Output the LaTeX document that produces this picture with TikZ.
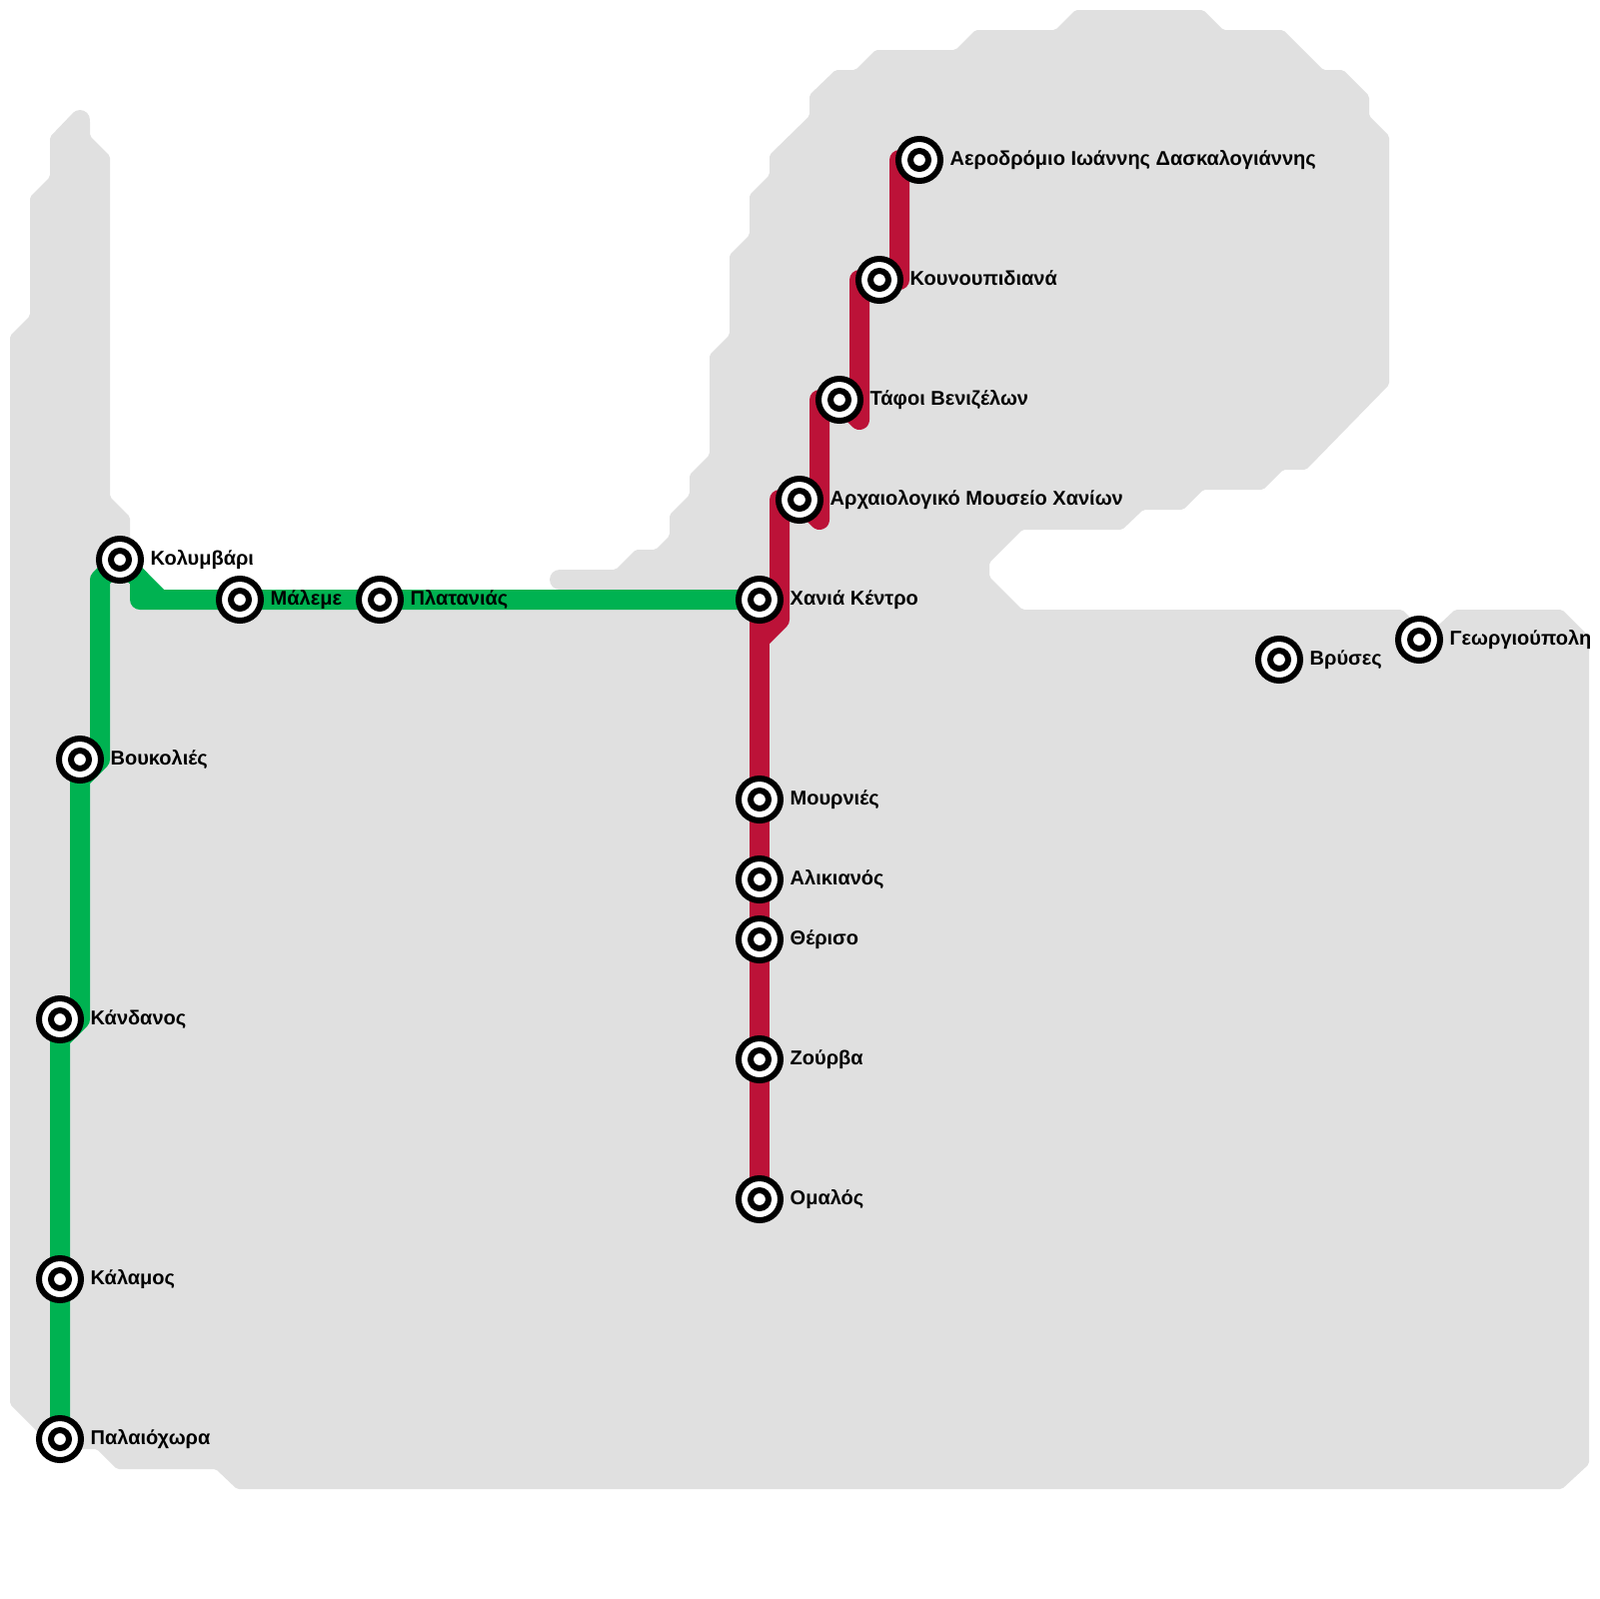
\documentclass[tikz,border=0pt]{standalone}
\usepackage{fontspec}
\setmainfont{Liberation Sans}
\usetikzlibrary{calc,backgrounds}
\definecolor{landgray}{RGB}{224,224,224}
\definecolor{linegreen}{RGB}{0,178,81}
\definecolor{linered}{RGB}{188,18,56}
\tikzset{
  stationring/.style={circle,draw=black,fill=white,line width=0.6mm,minimum size=4.2mm,inner sep=0pt,outer sep=0pt},
  stationcore/.style={circle,draw=black,fill=white,line width=0.6mm,minimum size=1.8mm,inner sep=0pt,outer sep=0pt},
  stationname/.style={anchor=base west,inner sep=0pt,font=\fontsize{5.69pt}{6.8pt}\selectfont\bfseries},
  metroline/.style={line width=2mm,line join=round,line cap=round}
}

\begin{document}
\begin{tikzpicture}[x=0.1mm,y=-0.1mm]
\useasboundingbox (0,0) rectangle (1600,1600);

% ===== STATIONS =====
\foreach \stn/\pos/\txt in {
  kolymvari/{120,560}/Κολυμβάρι,
  maleme/{240,600}/Μάλεμε,
  platanias/{380,600}/Πλατανιάς,
  chania/{760,600}/Χανιά Κέντρο,
  voukolies/{80,760}/Βουκολιές,
  kandanos/{60,1020}/Κάνδανος,
  kalamos/{60,1280}/Κάλαμος,
  palaiochora/{60,1440}/Παλαιόχωρα,
  mournies/{760,800}/Μουρνιές,
  alikianos/{760,880}/Αλικιανός,
  theriso/{760,940}/Θέρισο,
  zourva/{760,1060}/Ζούρβα,
  omalos/{760,1200}/Ομαλός,
  mouseio/{800,500}/Αρχαιολογικό Μουσείο Χανίων,
  venizelos/{840,400}/Τάφοι Βενιζέλων,
  kounoupidiana/{880,280}/Κουνουπιδιανά,
  aerodromio/{920,160}/Αεροδρόμιο Ιωάννης Δασκαλογιάννης,
  vryses/{1280,660}/Βρύσες,
  georgioupoli/{1420,640}/Γεωργιούπολη}{
  \node[stationring] (\stn) at (\pos) {};
  \node[stationcore] (\stn-core) at (\stn.center) {};
  \node[stationname] (\stn-name) at ($(\stn.center)+(30,5)$) {\txt};
}

% ===== BENDS =====
\coordinate (gbend1) at (140,580);
\coordinate (gbend2) at (140,600);
\coordinate (gbend3) at (160,600);
\coordinate (gbend4) at (100,580);
\coordinate (gbend5) at (100,760);
\coordinate (gbend6) at (80,780);
\coordinate (gbend7) at (80,1020);
\coordinate (gbend8) at (60,1040);
\coordinate (rbend1) at (760,640);
\coordinate (rbend2) at (780,620);
\coordinate (rbend3) at (780,500);
\coordinate (rbend4) at (820,520);
\coordinate (rbend5) at (820,400);
\coordinate (rbend6) at (860,420);
\coordinate (rbend7) at (860,280);
\coordinate (rbend8) at (900,280);
\coordinate (rbend9) at (900,160);

\begin{scope}[on background layer]
% land
\fill[landgray,rounded corners=0.2mm]
  (73,113) -- (90,120) -- (90,136) -- (110,156) -- (110,497) -- (130,517) -- (130,600)
  -- (560,600) -- (560,570) -- (616,570) -- (636,550) -- (656,550) -- (670,536) -- (670,515)
  -- (690,495) -- (690,475) -- (710,455) -- (710,355) -- (730,335) -- (730,255) -- (750,235)
  -- (750,195) -- (770,175) -- (770,155) -- (810,116) -- (810,95) -- (836,70) -- (856,70)
  -- (876,50) -- (956,50) -- (976,30) -- (1056,30) -- (1076,10) -- (1204,10) -- (1224,30)
  -- (1284,30) -- (1324,70) -- (1344,70) -- (1370,96) -- (1370,116) -- (1390,136) -- (1390,385)
  -- (1307,470) -- (1284,470) -- (1264,490) -- (1204,490) -- (1184,510) -- (1144,510)
  -- (1123,530) -- (1023,530) -- (990,563) -- (990,577) -- (1023,610) -- (1403,610)
  -- (1420,627) -- (1440,625) -- (1456,610) -- (1563,610) -- (1590,637) -- (1590,1465)
  -- (1563,1490) -- (237,1490) -- (216,1470) -- (117,1470) -- (97,1450) -- (60,1450)
  -- (40,1435) -- (10,1405) -- (10,336) -- (30,316) -- (30,197) -- (50,177) -- (50,137) -- cycle;
\fill[landgray] (80,120) circle (10);
\fill[landgray] (560,580) circle (10);

% green line
\draw[metroline,linegreen] (palaiochora.center) -- (kalamos.center) -- (gbend8) -- (gbend7)
  -- (gbend6) -- (gbend5) -- (gbend4) -- (kolymvari.center) -- (gbend3) -- (maleme.center)
  -- (platanias.center) -- (chania.center);
\draw[metroline,linegreen] (kolymvari.center) -- (gbend1) -- (gbend2) -- (gbend3);

% red line
\draw[metroline,linered] (omalos.center) -- (zourva.center) -- (theriso.center) -- (alikianos.center)
  -- (mournies.center) -- (rbend1) -- (chania.center);
\draw[metroline,linered] (rbend1) -- (rbend2) -- (rbend3) -- (mouseio.center) -- (rbend4) -- (rbend5)
  -- (venizelos.center) -- (rbend6) -- (rbend7) -- (kounoupidiana.center) -- (rbend8) -- (rbend9)
  -- (aerodromio.center);
\end{scope}

\end{tikzpicture}
\end{document}
